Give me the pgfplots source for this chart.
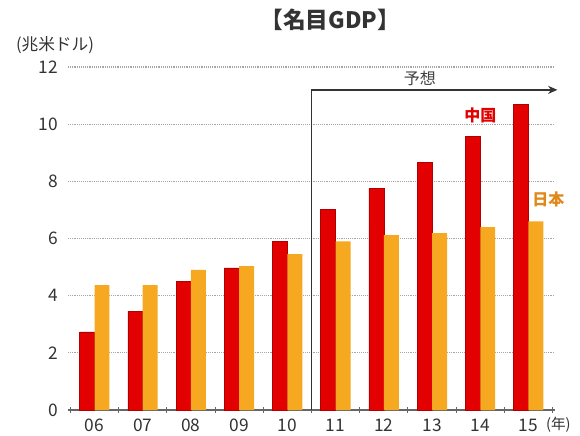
\documentclass[border=0pt]{standalone}
\usepackage{pgfplots}
\pgfplotsset{compat=1.18}
\usepackage{fontspec}
\setmainfont{Noto Sans CJK JP}
\usetikzlibrary{arrows.meta}

\definecolor{cnred}{HTML}{E30000}
\definecolor{cnedge}{HTML}{B00000}
\definecolor{jporange}{HTML}{F6A821}
\definecolor{jptext}{HTML}{E0891A}
\definecolor{txt}{HTML}{333333}

% 2006-2010 actual, 2011-2015 forecast (trillion USD)
\pgfplotstableread{
x china japan
0 2.73 4.37
1 3.46 4.37
2 4.50 4.90
3 4.97 5.03
4 5.90 5.45
5 7.03 5.90
6 7.76 6.12
7 8.67 6.19
8 9.58 6.40
9 10.70 6.60
}\gdp

\begin{document}
\begin{tikzpicture}
\useasboundingbox (-51pt,-18.75pt) rectangle (384pt,307.5pt);
\begin{axis}[
  at={(0,0)}, anchor=south west,
  scale only axis,
  width=365.25pt, height=257.25pt,
  xmin=-0.55, xmax=9.55,
  ymin=0, ymax=12,
  ytick={0,2,...,12},
  xtick={0,...,9},
  xticklabels={06,07,08,09,10,11,12,13,14,15},
  minor xtick={-0.5,0.5,...,9.5},
  major x tick style={draw=none},
  minor x tick style={draw=gray!80!black, line width=0.8pt},
  minor tick length=4pt,
  tickpos=left,
  xtick align=inside,
  axis x line=bottom,
  axis y line=left,
  x axis line style={-, draw=gray!80!black, line width=0.8pt},
  y axis line style={draw=none},
  major y tick style={draw=none},
  ymajorgrids,
  major grid style={densely dotted, draw=gray!70, line width=0.8pt},
  tick label style={font=\fontsize{13}{14}\selectfont, text=txt},
  /pgf/number format/assume math mode=true,
  yticklabel style={xshift=-2pt},
  xticklabel style={yshift=-1pt},
  clip=false,
]
\addplot[ybar, bar width=0.31, bar shift=-0.155, fill=cnred, draw=cnedge, line width=0.4pt]
  table[x=x, y=china] {\gdp};
\addplot[ybar, bar width=0.31, bar shift=0.155, fill=jporange, draw=none]
  table[x=x, y=japan] {\gdp};

\draw[draw=black!80, line width=1.2pt, -{Stealth[length=7pt,width=6pt]}]
  (axis cs:4.5,0) -- (axis cs:4.5,11.2) -- (axis cs:9.6,11.2);
\node[text=black!75, font=\fontsize{12}{13}\selectfont] at (axis cs:6.75,11.6) {予想};
\node[text=cnred, font=\fontsize{12}{13}\selectfont\bfseries] at (axis cs:8.0,10.3) {中国};
\node[text=jptext, font=\fontsize{12}{13}\selectfont\bfseries] at (axis cs:9.41,7.35) {日本};
\node[text=txt, font=\fontsize{17}{19}\selectfont\bfseries] at (axis cs:4.89,13.64) {【名目GDP】};
\node[text=txt, font=\fontsize{12.5}{14}\selectfont] at (axis cs:-0.82,12.76) {(兆米ドル)};
\node[text=txt, font=\fontsize{11}{12}\selectfont, anchor=west, inner sep=0pt] at (axis cs:9.36,-0.5) {(年)};
\end{axis}
\end{tikzpicture}
\end{document}
